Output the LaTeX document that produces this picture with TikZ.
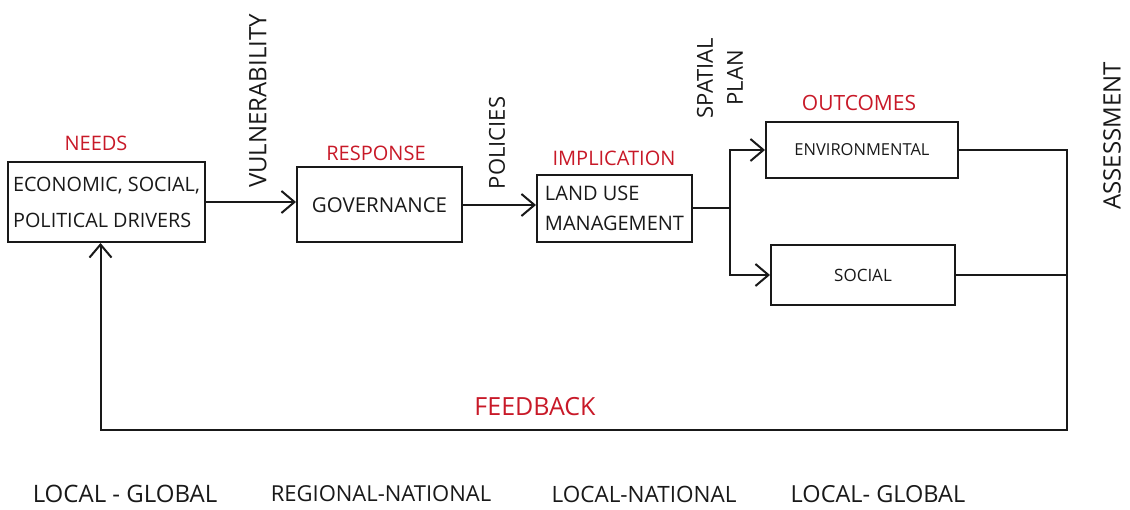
\documentclass[tikz,border=0pt]{standalone}
\usepackage{fontspec}
\setmainfont{Open Sans}
\usetikzlibrary{arrows.meta}
\definecolor{penred}{RGB}{200,25,40}
\definecolor{ink}{RGB}{25,25,25}
\begin{document}
\begin{tikzpicture}[x=1pt,y=-1pt,
  line width=2pt, draw=ink, text=ink,
  box/.style={draw, rectangle, inner sep=0pt, line width=2pt},
  stage/.style={text=penred, font=\fontsize{20}{22}\selectfont},
  vlabel/.style={rotate=90, font=\fontsize{22}{26}\selectfont, align=center},
  scalelabel/.style={font=\fontsize{22}{24}\selectfont},
  flow/.style={-{Straight Barb[length=13pt,width=22pt,line width=2pt]}}
]
\useasboundingbox (0,0) rectangle (1130,510);

% boxes
\node[box, minimum width=197pt, minimum height=80pt, align=left,
      font=\fontsize{19.8}{36}\selectfont] (needs) at (106.5,202)
      {ECONOMIC, SOCIAL,\\POLITICAL DRIVERS};
\node[box, minimum width=165pt, minimum height=75pt,
      font=\fontsize{20.5}{22}\selectfont] (gov) at (379.5,205) {GOVERNANCE};
\node[box, minimum width=155pt, minimum height=67pt, align=left,
      font=\fontsize{20}{30}\selectfont] (land) at (614.5,208.5)
      {LAND USE\\MANAGEMENT};
\node[box, minimum width=192pt, minimum height=56pt,
      font=\fontsize{16.5}{18}\selectfont] (env) at (862,150) {ENVIRONMENTAL};
\node[box, minimum width=184pt, minimum height=60pt,
      font=\fontsize{17}{18}\selectfont] (soc) at (863,275) {SOCIAL};

% stage titles
\node[stage] (tneeds) at (96,143) {NEEDS};
\node[stage] (tresp) at (376,153) {RESPONSE};
\node[stage] (timpl) at (614,158) {IMPLICATION};
\node[stage, font=\fontsize{21}{24}\selectfont] (tout) at (859,103) {OUTCOMES};
\node[stage, font=\fontsize{25}{26}\selectfont] (tfeed) at (535,407) {FEEDBACK};

% rotated link labels
\node[vlabel, font=\fontsize{24}{26}\selectfont] (lvul) at (258,101) {VULNERABILITY};
\node[vlabel] (lpol) at (497,143) {POLICIES};
\node[vlabel, font=\fontsize{22}{30}\selectfont] (lspa) at (720,78) {SPATIAL\\PLAN};
\node[vlabel, font=\fontsize{24}{26}\selectfont] (lass) at (1112,136) {ASSESSMENT};

% scale labels
\node[scalelabel, font=\fontsize{24}{26}\selectfont] (s1) at (125,494) {LOCAL - GLOBAL};
\node[scalelabel] (s2) at (381,494) {REGIONAL-NATIONAL};
\node[scalelabel, font=\fontsize{22.5}{24}\selectfont] (s3) at (644,494) {LOCAL-NATIONAL};
\node[scalelabel, font=\fontsize{23.5}{26}\selectfont] (s4) at (878,494) {LOCAL- GLOBAL};

% connectors
\coordinate (branch) at (730,208.5);
\coordinate (rail) at (1067,430);
\draw[flow] (needs.east) -- (needs.east -| gov.west);
\draw[flow] (gov.east) -- (gov.east -| land.west);
\draw (land.east) -- (branch);
\draw[flow] (branch) |- (env.west);
\draw[flow] (branch) |- (soc.west);
\draw (soc.east) -- (soc.east -| rail);
\draw[flow] (env.east) -| (rail) -| ([xshift=-6pt]needs.south);
\end{tikzpicture}
\end{document}
